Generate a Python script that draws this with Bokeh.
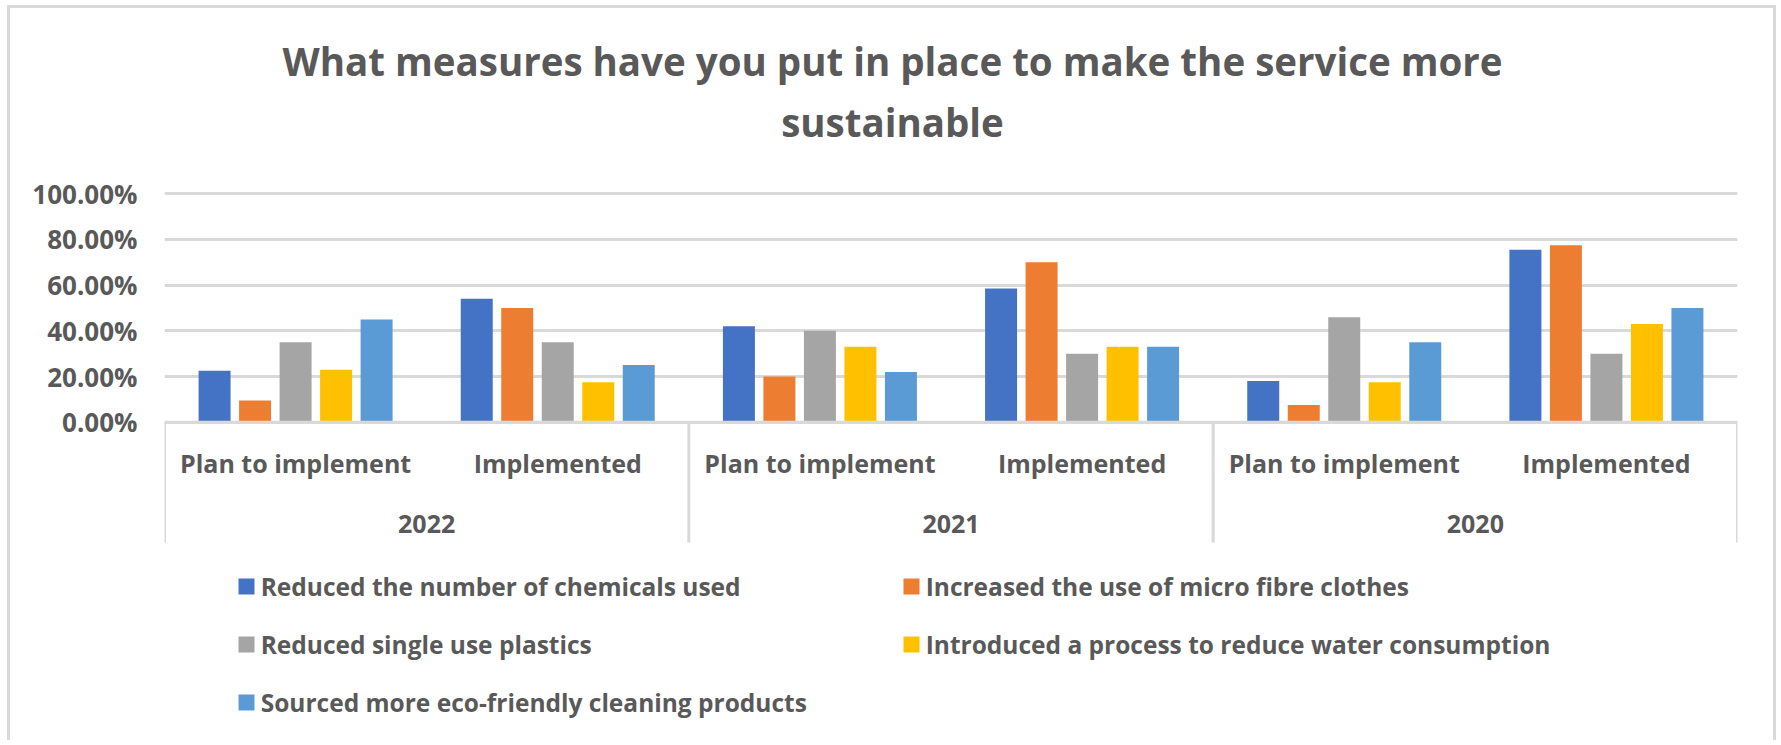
from bokeh.plotting import figure
from bokeh.models import (FactorRange, ColumnDataSource, Legend, LegendItem, Label,
                          FixedTicker, NumeralTickFormatter, Span, Range1d)
from bokeh.transform import dodge
from bokeh.core.properties import value
from bokeh.embed import file_html
from bokeh.resources import INLINE

# ---------------- data ----------------
years = ["2022", "2021", "2020"]
stages = ["Plan to implement", "Implemented"]
series_names = [
    "Reduced the number of chemicals used",
    "Increased the use of micro fibre clothes",
    "Reduced single use plastics",
    "Introduced a process to reduce water consumption",
    "Sourced more eco-friendly cleaning products",
]
# order: 2022 plan, 2022 impl, 2021 plan, 2021 impl, 2020 plan, 2020 impl
chemicals = [0.225, 0.54, 0.42, 0.585, 0.18, 0.755]
micro_fibre = [0.095, 0.50, 0.20, 0.70, 0.075, 0.775]
plastics = [0.35, 0.35, 0.40, 0.30, 0.46, 0.30]
water = [0.23, 0.175, 0.33, 0.33, 0.175, 0.43]
eco_products = [0.45, 0.25, 0.22, 0.33, 0.35, 0.50]
y_ticks = [0, 0.2, 0.4, 0.6, 0.8, 1.0]
title_text = "What measures have you put in place to make the service more\nsustainable"

colors = ["#4472C4", "#ED7D31", "#A5A5A5", "#FFC000", "#5B9BD5"]
TEXT = "#595959"
GRID = "#D9D9D9"
FONT = "Open Sans"

factors = [(y, s) for y in years for s in stages]
source = ColumnDataSource(dict(x=factors, chemicals=chemicals, micro_fibre=micro_fibre,
                               plastics=plastics, water=water, eco_products=eco_products))
cols = ["chemicals", "micro_fibre", "plastics", "water", "eco_products"]

# ---------------- layout geometry (canvas px) ----------------
W, H = 1776, 740
FRAME_L, FRAME_R = 164, 1737
ZERO_PX, FULL_PX = 421.7, 193.3          # screen y of 0% and 100%
PPU = ZERO_PX - FULL_PX                  # px per 1.0


def data_y(screen_y):
    return (ZERO_PX - screen_y) / PPU


x_range = FactorRange(*factors, group_padding=0, factor_padding=0, range_padding=0)
y_range = Range1d(data_y(H), data_y(0))

p = figure(width=W, height=H, x_range=x_range, y_range=y_range,
           output_backend="svg", toolbar_location=None, x_axis_location=None,
           min_border_left=FRAME_L, min_border_right=W - FRAME_R,
           min_border_top=0, min_border_bottom=0,
           border_fill_color=None, background_fill_color=None,
           outline_line_color=None)
p.styles = {"box-shadow": f"inset 7px 5px 0 0 #ffffff, inset 10px 8px 0 0 {GRID}, "
                          f"inset -3px 0 0 0 {GRID}"}

# y axis
p.yaxis.ticker = FixedTicker(ticks=y_ticks)
p.yaxis.formatter = NumeralTickFormatter(format="0.00%")
p.yaxis.axis_line_color = None
p.yaxis.major_tick_line_color = None
p.yaxis.minor_tick_line_color = None
p.yaxis.major_tick_out = 0
p.yaxis.major_label_standoff = 27
p.yaxis.major_label_text_font = FONT
p.yaxis.major_label_text_font_style = "bold"
p.yaxis.major_label_text_font_size = "26px"
p.yaxis.major_label_text_color = TEXT

p.xgrid.grid_line_color = None
p.ygrid.ticker = FixedTicker(ticks=y_ticks)
p.ygrid.grid_line_color = GRID
p.ygrid.grid_line_width = 3

# bars
offsets = [-0.309, -0.1545, 0.0, 0.1545, 0.309]
renderers = []
for col, off, c in zip(cols, offsets, colors):
    r = p.vbar(x=dodge("x", off, range=p.x_range), top=col, bottom=0, width=0.122,
               source=source, fill_color=c, line_color=None)
    renderers.append(r)

# category axis (drawn through the factor scale)
p.add_layout(Span(location=0, dimension="width", line_color=GRID, line_width=3))
sep_src = ColumnDataSource(dict(x=years))
p.segment(x0=dodge("x", -1.0, range=p.x_range), x1=dodge("x", -1.0, range=p.x_range),
          y0=0, y1=data_y(542), source=sep_src, line_color=GRID, line_width=3)
end_src = ColumnDataSource(dict(x=[years[-1]]))
p.segment(x0=dodge("x", 1.0, range=p.x_range), x1=dodge("x", 1.0, range=p.x_range),
          y0=0, y1=data_y(542), source=end_src, line_color=GRID, line_width=3)

p.text(x=factors, y=[data_y(462)] * len(factors), text=[f[1] for f in factors],
       text_align="center", text_baseline="middle", text_font=value(FONT),
       text_font_style="bold", text_font_size="25px", text_color=TEXT)
p.text(x=years, y=[data_y(523)] * len(years), text=years,
       text_align="center", text_baseline="middle", text_font=value(FONT),
       text_font_style="bold", text_font_size="25px", text_color=TEXT)

# title
title = Label(x=892 - FRAME_L, y=H - 91, x_units="screen", y_units="screen",
              text=title_text, text_align="center", text_baseline="middle",
              text_font=FONT, text_font_style="bold", text_font_size="38.5px",
              text_color=TEXT, text_line_height=1.18)
p.add_layout(title)

# legend
legend = Legend(items=[LegendItem(label=n, renderers=[r]) for n, r in zip(series_names, renderers)],
                location=(71.7, 21), orientation="horizontal", ncols=2,
                padding=0, margin=0, spacing=24, label_height=34, glyph_height=20,
                glyph_width=20, label_standoff=5, label_width=616,
                label_text_font=FONT, label_text_font_style="bold",
                label_text_font_size="24.5px", label_text_color=TEXT,
                border_line_color=None, background_fill_alpha=0)
p.add_layout(legend)

open("out.html", "w").write(file_html(p, INLINE))
